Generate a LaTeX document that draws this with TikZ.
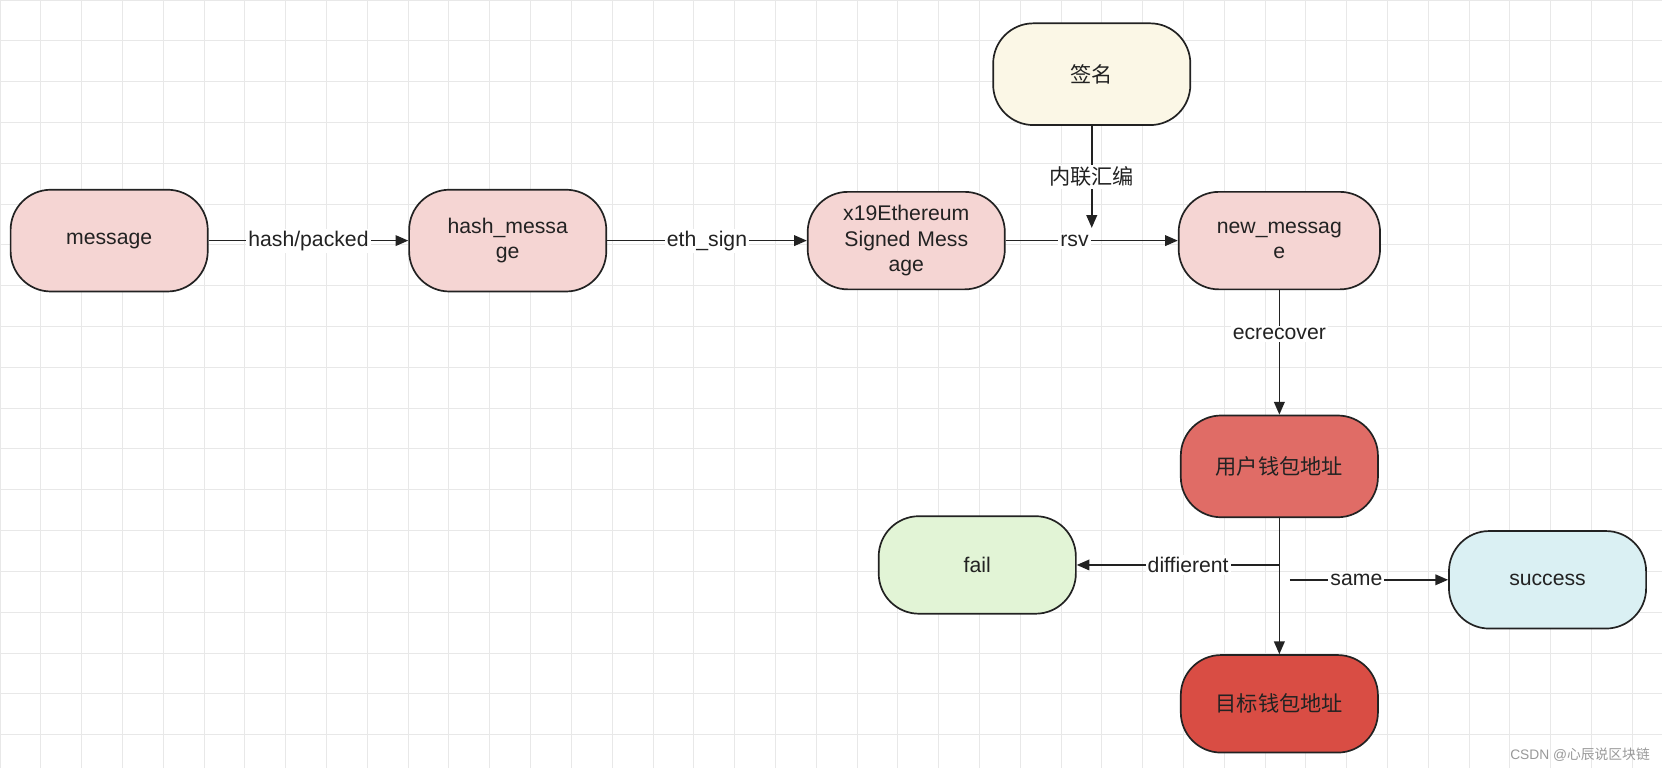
\documentclass[tikz,border=0pt]{standalone}
\usepackage{fontspec}
\setmainfont{Liberation Sans}
\newfontfamily\cjk{Noto Sans CJK SC}
\usetikzlibrary{arrows.meta}
\definecolor{pinkf}{HTML}{F5D5D3}
\definecolor{yel}{HTML}{FBF7E6}
\definecolor{redA}{HTML}{E06C66}
\definecolor{redB}{HTML}{D94D44}
\definecolor{grn}{HTML}{E2F4D6}
\definecolor{cyn}{HTML}{DAF0F3}
\definecolor{ink}{HTML}{222222}
\begin{document}
\begin{tikzpicture}[x=1pt,y=-1pt,
  box/.style={draw=ink,line width=1.6pt,rounded corners=38pt,minimum width=186pt,minimum height=92pt,align=center,font=\fontsize{20}{24}\selectfont,text=ink,inner sep=2pt},
  lab/.style={fill=white,inner sep=2pt,font=\fontsize{20}{24}\selectfont,text=ink},
  arr/.style={draw=ink,line width=1.6pt,-{Triangle[length=12pt,width=10pt]}},
  ln/.style={draw=ink,line width=1.6pt}]
\useasboundingbox (0,0) rectangle (1568,725);
\fill[white] (0,0) rectangle (1568,725);
\foreach \i in {0,...,41} \draw[gray!18,line width=0.8pt] (\i*38.5,0) -- (\i*38.5,725);
\foreach \j in {0,...,19} \draw[gray!18,line width=0.8pt] (0,\j*38.5) -- (1568,\j*38.5);
\node[box,fill=yel,minimum height=96pt] (sig) at (1030,70) {\cjk 签名};
\node[box,fill=pinkf,minimum height=96pt] (msg) at (103,227) {message};
\node[box,fill=pinkf,minimum height=96pt,text width=150pt] (hash) at (479,227) {hash\_messa\\ge};
\node[box,fill=pinkf,text width=160pt] (x19) at (855,227) {x19Ethereum\\Signed Mess\\age};
\node[box,fill=pinkf,minimum width=190pt,text width=150pt] (new) at (1207,227) {new\_messag\\e};
\node[box,fill=redA,minimum height=96pt] (user) at (1207,440) {\cjk 用户钱包地址};
\node[box,fill=grn] (fail) at (922,533) {fail};
\node[box,fill=cyn] (succ) at (1460,547) {success};
\node[box,fill=redB] (tgt) at (1207,664) {\cjk 目标钱包地址};
\coordinate (j) at (1030,215);
\coordinate (b1) at (1207,533);
\coordinate (b2) at (1217,547);
\draw[arr] (msg) -- node[lab]{hash/packed} (hash);
\draw[arr] (hash) -- node[lab]{eth\_sign} (x19);
\draw[arr] (x19) -- node[lab,pos=0.4]{rsv} (new);
\draw[arr] (sig) -- node[lab,pos=0.5]{\cjk 内联汇编} (j);
\draw[arr] (new) -- node[lab,pos=0.35]{ecrecover} (user);
\draw[arr] (user) -- (tgt);
\draw[arr] (b1) -- node[lab,pos=0.45]{diffierent} (fail);
\draw[arr] (b2) -- node[lab,pos=0.42]{same} (succ);
\node[anchor=south east,font=\fontsize{13}{15}\selectfont,text=gray!80] (wm) at (1560,722) {CSDN @{\cjk 心辰说区块链}};
\end{tikzpicture}
\end{document}
